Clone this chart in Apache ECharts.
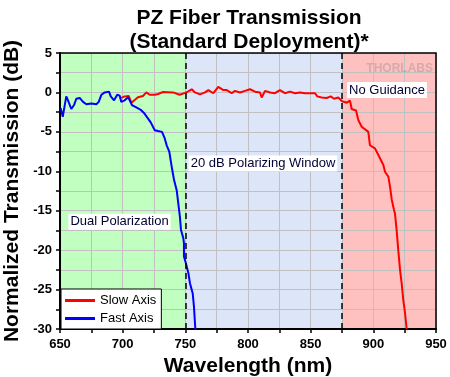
<!DOCTYPE html>
<html>
<head>
<meta charset="utf-8">
<script src="https://cdn.jsdelivr.net/npm/echarts@6/dist/echarts.min.js"></script>
<style>html,body{margin:0;padding:0;background:#fff;}#c{width:450px;height:377px;}</style>
</head>
<body>
<div id="c"></div>
<script>
var xTicks = [650, 700, 750, 800, 850, 900, 950];
var yTicks = [5, 0, -5, -10, -15, -20, -25, -30];

var fastWavelength = [650.6,652.2,655.0,656.4,659.0,661.2,663.0,665.7,668.4,671.0,675.0,679.0,680.9,683.0,685.7,689.1,690.5,693.1,695.7,697.6,698.9,701.6,704.3,705.6,707.4,710.9,714.4,717.0,719.7,722.4,725.6,728.2,731.4,733.5,735.1,737.2,739.1,741.0,743.1,744.4,745.7,746.5,748.4,748.9,748.9,750.5,752.4,753.7,755.9,756.9,757.7,758.2];
var fastTransmission = [-2.0,-3.1,-0.5,-1.0,-2.1,-1.6,-0.8,-0.7,-1.2,-1.5,-1.4,-1.5,-1.2,-0.3,0.0,0.1,-0.5,-1.0,-0.3,-0.4,-1.2,-1.0,-0.6,-1.0,-1.6,-1.9,-2.2,-2.6,-3.2,-3.8,-4.8,-4.9,-5.0,-5.8,-6.7,-7.5,-9.4,-11.1,-12.4,-14.1,-15.8,-17.4,-18.5,-19.1,-20.8,-21.7,-22.9,-24.2,-25.5,-27.2,-29.3,-30.5];

var slowWavelength = [698.9,701.6,704.8,706.9,709.6,712.2,716.2,718.9,721.6,725.6,728.2,732.2,740.2,745.5,749.7,752.0,755.1,757.7,761.7,765.7,768.4,772.3,776.3,780.3,783.0,787.0,789.6,793.6,797.6,801.6,805.6,809.6,810.9,813.6,817.6,821.5,825.5,829.5,833.5,837.5,841.5,845.5,849.5,853.5,855.3,858.8,862.8,866.0,868.6,872.1,874.8,878.8,881.4,882.7,886.2,888.0,890.7,896.0,897.3,901.3,905.3,908.0,909.3,912.0,913.3,914.7,916.5,917.3,918.6,919.9,921.3,922.6,923.9,925.3,926.6];
var slowTransmission = [-0.7,-0.5,-0.45,-1.3,-0.95,-0.6,-0.45,0.0,-0.3,-0.3,-0.2,0.05,0.0,-0.3,-0.05,0.1,0.4,0.0,-0.25,0.0,0.3,-0.1,0.7,0.3,0.3,-0.1,0.2,0.0,0.2,0.4,0.1,0.0,-0.65,0.2,0.0,-0.1,0.3,-0.1,0.1,-0.1,0.0,-0.1,-0.1,-0.1,-0.5,-0.65,-0.7,-0.5,-0.8,-0.65,-1.1,-1.3,-1.05,-2.1,-2.3,-3.5,-4.35,-5.0,-6.7,-7.1,-8.35,-9.2,-10.05,-10.7,-11.95,-13.6,-14.9,-15.4,-17.5,-20.0,-22.5,-24.2,-26.3,-28.0,-30.0];

var regionBounds = [650, 750, 875, 950];
var regionColors = ['#c0ffc0', '#dce6f8', '#ffc0c0'];
var windowEdges = [750, 875];
var annotations = [
  {text: 'No Guidance', x: 910.9, y: 0.3},
  {text: '20 dB Polarizing Window', x: 812, y: -9.0},
  {text: 'Dual Polarization', x: 697.5, y: -16.4}
];

function zip(a, b) { return a.map(function (v, i) { return [v, b[i]]; }); }

var chart = echarts.init(document.getElementById('c'), null, {renderer: 'canvas'});
var FONT = 'Liberation Sans, Arial, sans-serif';

var areaData = regionColors.map(function (c, i) {
  return [{xAxis: regionBounds[i], yAxis: 5, itemStyle: {color: c, opacity: 1}}, {xAxis: regionBounds[i + 1], yAxis: -30}];
});

chart.setOption({
  animation: false,
  backgroundColor: '#ffffff',
  title: [
    {text: 'PZ Fiber Transmission', left: 244, top: 3, textAlign: 'center',
     textStyle: {fontFamily: FONT, fontWeight: 'bold', fontSize: 21, color: '#000'}},
    {text: '(Standard Deployment)*', left: 244, top: 27, textAlign: 'center',
     textStyle: {fontFamily: FONT, fontWeight: 'bold', fontSize: 21, color: '#000'}}
  ],
  grid: {left: 60, right: 14, top: 53, bottom: 48, show: true, borderColor: '#000', borderWidth: 1.5,
    backgroundColor: 'transparent', z: 1.6, outerBoundsMode: 'none', containLabel: false},
  legend: {
    orient: 'vertical', left: 61, top: 289, itemWidth: 30, itemHeight: 3, itemGap: 5,
    backgroundColor: '#fff', borderColor: '#000', borderWidth: 1, borderRadius: 0,
    padding: [5, 5, 4, 4], z: 10,
    data: [{name: 'Slow Axis', icon: 'rect'}, {name: 'Fast Axis', icon: 'rect'}],
    textStyle: {fontFamily: FONT, fontSize: 13, color: '#000'}
  },
  xAxis: {
    type: 'value', min: 650, max: 950, interval: 50, z: 1.5,
    name: 'Wavelength (nm)', nameLocation: 'middle', nameGap: 23,
    nameTextStyle: {fontFamily: FONT, fontWeight: 'bold', fontSize: 21, color: '#000'},
    axisLine: {show: true, onZero: false, lineStyle: {color: '#000', width: 2}},
    axisTick: {show: true, length: 4, lineStyle: {color: '#000', width: 1.5}},
    minorTick: {show: true, splitNumber: 2, length: 4, lineStyle: {color: '#000', width: 1.5}},
    splitLine: {show: true, lineStyle: {color: '#c0c0c0', width: 1}},
    minorSplitLine: {show: true, lineStyle: {color: '#c0c0c0', width: 1}},
    axisLabel: {fontFamily: FONT, fontWeight: 'bold', fontSize: 13, color: '#000', margin: 9,
      formatter: function (v) { return xTicks.indexOf(v) >= 0 ? String(v) : ''; }}
  },
  yAxis: {
    type: 'value', min: -30, max: 5, interval: 5, z: 1.5,
    name: 'Normalized Transmission (dB)', nameLocation: 'middle', nameGap: 37,
    nameTextStyle: {fontFamily: FONT, fontWeight: 'bold', fontSize: 21, color: '#000'},
    axisLine: {show: true, onZero: false, lineStyle: {color: '#000', width: 2}},
    axisTick: {show: true, length: 4, lineStyle: {color: '#000', width: 1.5}},
    minorTick: {show: true, splitNumber: 2, length: 4, lineStyle: {color: '#000', width: 1.5}},
    splitLine: {show: true, lineStyle: {color: '#c0c0c0', width: 1}},
    minorSplitLine: {show: true, lineStyle: {color: '#c0c0c0', width: 1}},
    axisLabel: {fontFamily: FONT, fontWeight: 'bold', fontSize: 13, color: '#000', margin: 8,
      formatter: function (v) { return yTicks.indexOf(v) >= 0 ? String(v) : ''; }}
  },
  graphic: [
    {type: 'text', right: 17, top: 63, z: 1.7,
     style: {text: 'THORLABS', fontFamily: FONT, fontWeight: 'bold', fontSize: 12, fill: 'rgba(120,120,120,0.3)'}}
  ],
  series: [
    {
      name: 'regions', type: 'line', z: 1, data: [], silent: true,
      markArea: {silent: true, z: 1, data: areaData}
    },
    {
      name: 'edges', type: 'line', z: 3, data: [], silent: true,
      markLine: {
        silent: true, symbol: 'none', label: {show: false}, z: 3,
        lineStyle: {color: '#000', type: [6, 4], width: 1.5},
        data: windowEdges.map(function (x) { return {xAxis: x}; })
      },
      markPoint: {
        silent: true, symbol: 'rect', symbolSize: 1, z: 4,
        itemStyle: {color: 'transparent'},
        label: {show: true, position: 'inside', fontFamily: FONT, fontSize: 13, color: '#000033',
          backgroundColor: '#fff', padding: [2, 2, 1, 2],
          formatter: function (p) { return p.name; }},
        data: annotations.map(function (a) { return {name: a.text, coord: [a.x, a.y]}; })
      }
    },
    {
      name: 'Slow Axis', type: 'line', z: 2.5, symbol: 'none', showSymbol: false,
      lineStyle: {color: '#ff0000', width: 2}, itemStyle: {color: '#ff0000'},
      data: zip(slowWavelength, slowTransmission)
    },
    {
      name: 'Fast Axis', type: 'line', z: 2.6, symbol: 'none', showSymbol: false,
      lineStyle: {color: '#0000ff', width: 2}, itemStyle: {color: '#0000ff'},
      data: zip(fastWavelength, fastTransmission)
    }
  ]
});
</script>
</body>
</html>
